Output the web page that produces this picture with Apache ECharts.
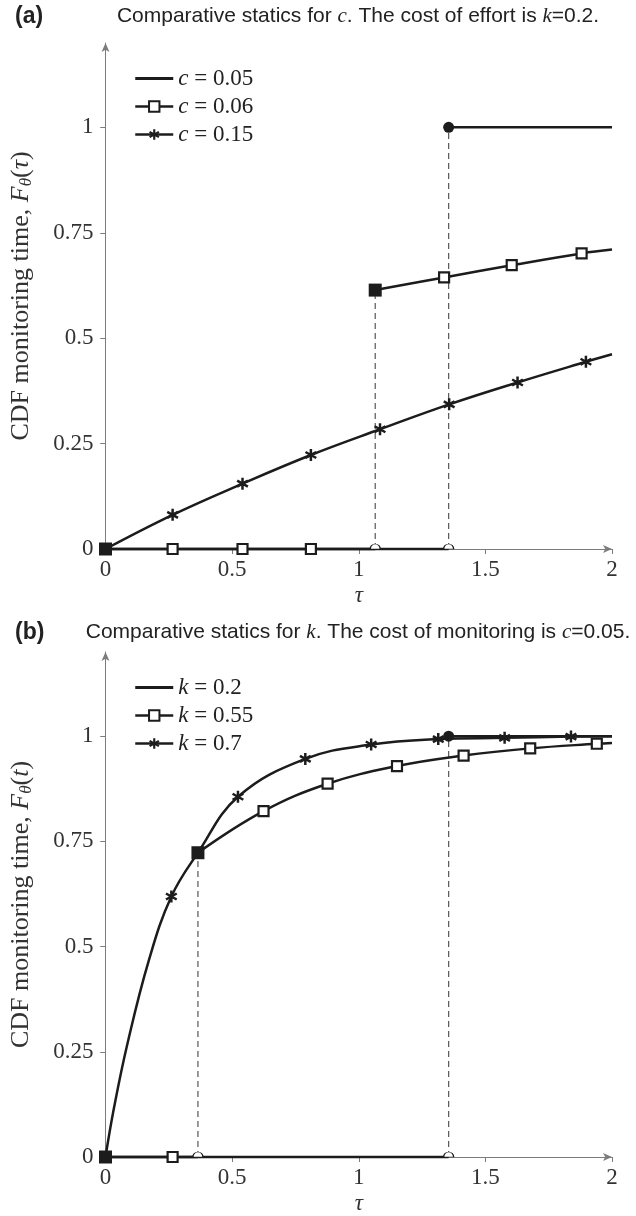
<!DOCTYPE html>
<html>
<head>
<meta charset="utf-8">
<title>Comparative statics</title>
<script src="https://cdn.jsdelivr.net/npm/echarts@6.0.0/dist/echarts.min.js"></script>
<style>
  html, body { margin: 0; padding: 0; background: #fff; }
  #chart { width: 636px; height: 1216px; }
</style>
</head>
<body>
<div id="chart"></div>
<script>
// tick values shared by both panels
const xTicks = [0, 0.5, 1, 1.5, 2];
const yTicks = [0, 0.25, 0.5, 0.75, 1];

// panel (a): comparative statics for c, k = 0.2
const c05Low = [[0, 0], [1.355, 0]];
const c05High = [[1.355, 1], [2, 1]];
const c06Low = [[0, 0], [1.065, 0]];
const c06Curve = [[1.065, 0.614], [1.337, 0.644], [1.604, 0.673], [1.88, 0.701], [2, 0.710]];
const c06Marks = [[0.265, 0], [0.541, 0], [0.811, 0], [1.337, 0.644], [1.604, 0.673], [1.88, 0.701]];
const c15Curve = [[0, 0], [0.265, 0.081], [0.541, 0.155], [0.811, 0.223], [1.084, 0.284], [1.357, 0.343], [1.627, 0.395], [1.897, 0.444], [2, 0.462]];
const c15Marks = [[0.265, 0.081], [0.541, 0.155], [0.811, 0.223], [1.084, 0.284], [1.357, 0.343], [1.627, 0.395], [1.897, 0.444]];
const aSquareJump = [[0, 0], [1.065, 0.614]];
const aDotJump = [[1.355, 1]];
const aOpenPoints = [[1.065, 0], [1.355, 0]];

// panel (b): comparative statics for k, c = 0.05
const k02Low = [[0, 0], [1.355, 0]];
const k02High = [[1.355, 1], [2, 1]];
const k055Low = [[0, 0], [0.365, 0]];
const k055Curve = [[0.365, 0.723], [0.624, 0.822], [0.877, 0.887], [1.151, 0.929], [1.414, 0.954], [1.677, 0.971], [1.94, 0.982], [2, 0.984]];
const k055Marks = [[0.265, 0], [0.624, 0.822], [0.877, 0.887], [1.151, 0.929], [1.414, 0.954], [1.677, 0.971], [1.94, 0.982]];
const k07Curve = [[0, 0], [0.033, 0.115], [0.085, 0.265], [0.17, 0.465], [0.26, 0.619], [0.365, 0.723], [0.523, 0.856], [0.789, 0.946], [1.049, 0.980], [1.314, 0.993], [1.576, 0.996], [1.838, 0.999], [2, 1]];
const k07Marks = [[0.26, 0.619], [0.523, 0.856], [0.789, 0.946], [1.049, 0.980], [1.314, 0.993], [1.576, 0.996], [1.838, 0.999]];
const bSquareJump = [[0, 0], [0.365, 0.723]];
const bDotJump = [[1.355, 1]];
const bOpenPoints = [[0.365, 0], [1.355, 0]];

const ink = '#1c1c1c';
const axisGray = '#7c7c7c';
const serif = "'Liberation Serif', 'DejaVu Serif', serif";
const sans = "'Liberation Sans', Arial, sans-serif";
const starSymbol = 'path://M80,0L120,0L120,200L80,200ZM176.6,32.7L196.6,67.3L23.4,167.3L3.4,132.7ZM3.4,67.3L23.4,32.7L196.6,132.7L176.6,167.3Z';
const halfCircle = 'path://M0,10A10,10 0 0 1 20,10Z';
const plainLine = 'path://M0,0H40V3H0Z';

// join segments with a break between them
function joined(...parts) {
  let out = [];
  parts.forEach((p, i) => {
    if (i > 0) out.push([p[0][0], '-']);
    out = out.concat(p);
  });
  return out;
}

function curve(name, gi, data, symbol) {
  return {
    name: name, type: 'line', xAxisIndex: gi, yAxisIndex: gi,
    data: data, smooth: 0.4, symbol: symbol, symbolSize: 10,
    showSymbol: false, clip: false, silent: true, z: 4,
    lineStyle: { color: ink, width: 2.5 },
    itemStyle: { color: ink }
  };
}

function marks(gi, data, symbol, size, fill) {
  return {
    type: 'scatter', xAxisIndex: gi, yAxisIndex: gi, data: data,
    symbol: symbol, symbolSize: size, clip: false, silent: true, z: 5,
    itemStyle: { color: fill, opacity: 1, borderColor: ink, borderWidth: fill === '#fff' ? 2.2 : 0 }
  };
}

function openMarks(gi, data) {
  return {
    type: 'scatter', xAxisIndex: gi, yAxisIndex: gi, data: data,
    symbol: halfCircle, symbolSize: [10, 5], symbolOffset: [0, -2.5],
    clip: false, silent: true, z: 5,
    itemStyle: { color: '#fff', opacity: 1, borderColor: ink, borderWidth: 1 }
  };
}

function drops(gi, pts) {
  let data = [];
  pts.forEach((p, i) => {
    if (i > 0) data.push([p[0], '-']);
    data.push([p[0], 0], p);
  });
  return {
    type: 'line', xAxisIndex: gi, yAxisIndex: gi, data: data,
    showSymbol: false, symbol: 'none', clip: false, silent: true, z: 3,
    lineStyle: { color: '#555', width: 1.2, type: [6, 4] }
  };
}

function xAxisOf(gi, main) {
  return {
    type: 'value', gridIndex: gi, min: 0, max: 2, interval: 0.5,
    name: main ? 'τ' : '', nameLocation: 'middle', nameGap: 35,
    nameTextStyle: { fontFamily: serif, fontStyle: 'italic', fontSize: 23, color: '#333' },
    axisLine: main ? {
      show: true, onZero: false, symbol: ['none', 'arrow'], symbolSize: [6, 9],
      lineStyle: { color: axisGray, width: 1 }
    } : { show: false },
    axisTick: { show: true, inside: !main, length: 5, customValues: xTicks, lineStyle: { color: axisGray } },
    axisLabel: main ? {
      customValues: xTicks, margin: 9, fontFamily: serif, fontSize: 23, color: '#333'
    } : { show: false },
    splitLine: { show: false }
  };
}

function yAxisOf(gi, main, title) {
  return {
    type: 'value', gridIndex: gi, min: 0, max: 1.2, interval: 0.25,
    name: main ? title : '', nameLocation: 'middle', nameGap: 70,
    nameTextStyle: {
      fontFamily: serif, fontSize: 26, color: '#333',
      rich: {
        i: { fontFamily: serif, fontStyle: 'italic', fontSize: 26, color: '#333' },
        s: { fontFamily: serif, fontStyle: 'italic', fontSize: 17, color: '#333', padding: [12, 0, 0, 0] }
      }
    },
    axisLine: main ? {
      show: true, onZero: false, symbol: ['none', 'arrow'], symbolSize: [6, 9],
      lineStyle: { color: axisGray, width: 1 }
    } : { show: false },
    axisTick: { show: true, inside: !main, length: 5, customValues: yTicks, lineStyle: { color: axisGray } },
    axisLabel: main ? {
      customValues: yTicks, margin: 12, fontFamily: serif, fontSize: 23, color: '#333'
    } : { show: false },
    splitLine: { show: false }
  };
}

function legendOf(top, names) {
  return {
    data: [{ name: names[0], icon: plainLine }, names[1], names[2]],
    orient: 'vertical', left: 129, top: top,
    itemWidth: 38, itemHeight: 13, itemGap: 5,
    selectedMode: false,
    lineStyle: { width: 2.5 },
    formatter: (n) => n.replace(/^([ck])/, '{i|$1}'),
    textStyle: {
      fontFamily: serif, fontSize: 23, color: '#222', lineHeight: 20,
      rich: { i: { fontFamily: serif, fontStyle: 'italic', fontSize: 23, color: '#222', lineHeight: 20 } }
    }
  };
}

function titleText(text, top) {
  return {
    text: text, left: 358, textAlign: 'center', top: top, padding: 0,
    textStyle: {
      fontFamily: sans, fontSize: 21, fontWeight: 'normal', color: '#222',
      rich: { m: { fontFamily: serif, fontStyle: 'italic', fontSize: 21, color: '#222' } }
    }
  };
}

let myChart = echarts.init(document.getElementById('chart'), null, { renderer: 'canvas' });

let option = {
  animation: false,
  backgroundColor: '#fff',
  title: [
    { text: '(a)', left: 15, top: 5, padding: 0, textStyle: { fontFamily: sans, fontWeight: 'bold', fontSize: 23, color: '#222' } },
    titleText('Comparative statics for {m|c}. The cost of effort is {m|k}=0.2.', 6),
    { text: '(b)', left: 15, top: 621, padding: 0, textStyle: { fontFamily: sans, fontWeight: 'bold', fontSize: 23, color: '#222' } },
    titleText('Comparative statics for {m|k}. The cost of monitoring is {m|c}=0.05.', 622)
  ],
  legend: [
    legendOf(62, ['c = 0.05', 'c = 0.06', 'c = 0.15']),
    legendOf(671, ['k = 0.2', 'k = 0.55', 'k = 0.7'])
  ],
  grid: [
    { left: 105, top: 43, width: 507, height: 506 },
    { left: 105, top: 652, width: 507, height: 505 }
  ],
  xAxis: [xAxisOf(0, true), xAxisOf(1, true), xAxisOf(0, false), xAxisOf(1, false)],
  yAxis: [
    yAxisOf(0, true, 'CDF monitoring time, {i|F}{s|θ}({i|τ})'),
    yAxisOf(1, true, 'CDF monitoring time, {i|F}{s|θ}({i|t})'),
    yAxisOf(0, false), yAxisOf(1, false)
  ],
  series: [
    drops(0, [aSquareJump[1], aDotJump[0]]),
    curve('c = 0.05', 0, joined(c05Low, c05High), 'none'),
    curve('c = 0.06', 0, joined(c06Low, c06Curve), 'emptyRect'),
    curve('c = 0.15', 0, c15Curve, starSymbol),
    marks(0, c06Marks, 'rect', 10, '#fff'),
    marks(0, c15Marks, starSymbol, 12, ink),
    marks(0, aSquareJump, 'rect', 13, ink),
    marks(0, aDotJump, 'circle', 11, ink),
    openMarks(0, aOpenPoints),

    drops(1, [bSquareJump[1], bDotJump[0]]),
    curve('k = 0.2', 1, joined(k02Low, k02High), 'none'),
    curve('k = 0.55', 1, joined(k055Low, k055Curve), 'emptyRect'),
    curve('k = 0.7', 1, k07Curve, starSymbol),
    marks(1, k055Marks, 'rect', 10, '#fff'),
    marks(1, k07Marks, starSymbol, 12, ink),
    marks(1, bSquareJump, 'rect', 13, ink),
    marks(1, bDotJump, 'circle', 11, ink),
    openMarks(1, bOpenPoints)
  ]
};

myChart.setOption(option, true);

window.addEventListener('resize', () => {
  myChart.resize();
});
</script>
</body>
</html>
